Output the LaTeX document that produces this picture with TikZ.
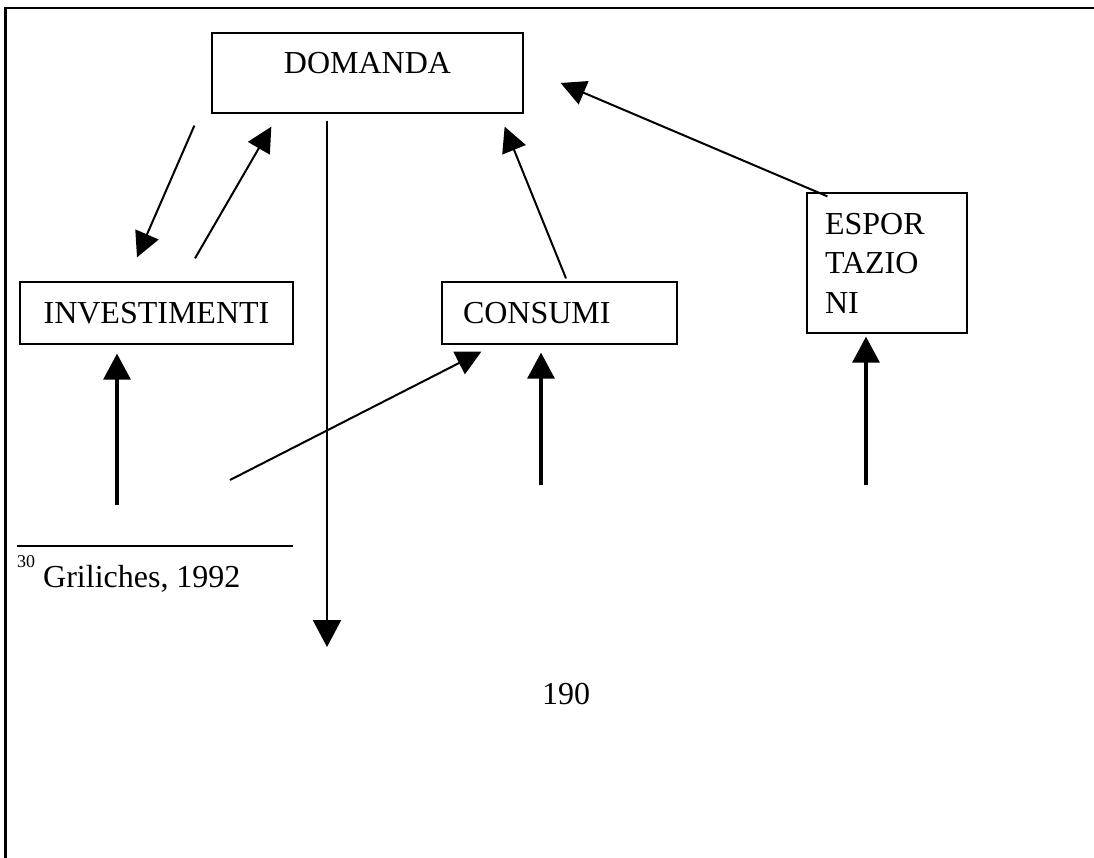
\documentclass[tikz,border=0pt]{standalone}
\usepackage{fontspec}
\setmainfont{Liberation Serif}
\usepackage{tikz}
\usetikzlibrary{arrows.meta, positioning, calc}

\begin{document}
\begin{tikzpicture}[
        x=1pt, y=-1pt,
        font=\fontsize{32}{39.5}\selectfont,
        % styles
        baseBox/.style={rectangle, draw, line width=1.3pt, inner sep=0pt},
        boxTop/.style={baseBox, minimum width=311pt, minimum height=80pt, text height=21pt, text depth=19pt},
        boxRow/.style={baseBox, minimum height=62pt},
        boxSide/.style={baseBox, minimum height=140pt, inner xsep=18pt, text width=124pt, align=left},
        % connector styles
        conn/.style={-{Triangle[length=25pt, width=25pt]}, line width=2pt},
        connThick/.style={-{Triangle[length=26pt, width=27pt]}, line width=3.2pt},
        connLong/.style={-{Triangle[length=27pt, width=28pt]}, line width=2.4pt}
    ]

    \useasboundingbox (0,0) rectangle (1094,858);

    % page frame
    \draw [line width=2.5pt] (5.5,858) -- (5.5,8) -- (1094,8);

    % nodes

    % top: demand
    \node [boxTop] (dom) at (367.5,73) {DOMANDA};

    % middle row
    \node [boxRow, minimum width=273pt] (inv) at (156.5,313) {INVESTIMENTI};
    \node [boxRow, inner xsep=21pt, text width=193pt, align=left] (con) at (559.5,313) {CONSUMI};
    \node [boxSide] (exp) at (887,263) {ESPOR\\TAZIO\\NI};

    % footnote and page number
    \draw [line width=1.6pt] (17,546) -- (293,546);
    \node [anchor=base west, inner sep=0pt] (fnote) at (17,587)
        {\raisebox{20pt}{\fontsize{18}{18}\selectfont 30} Griliches, 1992};
    \node [anchor=base, inner sep=0pt] (pnum) at (566,704) {190};

    % free ends
    \coordinate (domOut) at (327,647);
    \coordinate (invIn) at (117,505);
    \coordinate (conInA) at (230,480);
    \coordinate (conInB) at (541,485);
    \coordinate (expIn) at (866,485);

    % connections

    % demand <-> investments
    \draw [conn] ([shift={(-17,12)}]dom.south west) -- ([shift={(-19.5,-24)}]inv.north);
    \draw [conn] ([shift={(38.5,-23)}]inv.north) -- ([shift={(60,13)}]dom.south west);

    % demand, downwards
    \draw [connLong] ([shift={(-40.5,7)}]dom.south) -- (domOut);

    % consumption and exports to demand
    \draw [conn] ([shift={(6.5,-3)}]con.north) -- ([shift={(-19,13)}]dom.south east);
    \draw [conn] ([shift={(21,4)}]exp.north west) -- ([shift={(37,10)}]dom.east);

    % from below
    \draw [connThick] (invIn) -- ([shift={(-39.5,9)}]inv.south);
    \draw [conn] (conInA) -- ([shift={(40,7)}]con.south west);
    \draw [connThick] (conInB) -- ([shift={(-18.5,8)}]con.south);
    \draw [connThick] (expIn) -- ([shift={(-21,3)}]exp.south);

\end{tikzpicture}
\end{document}
